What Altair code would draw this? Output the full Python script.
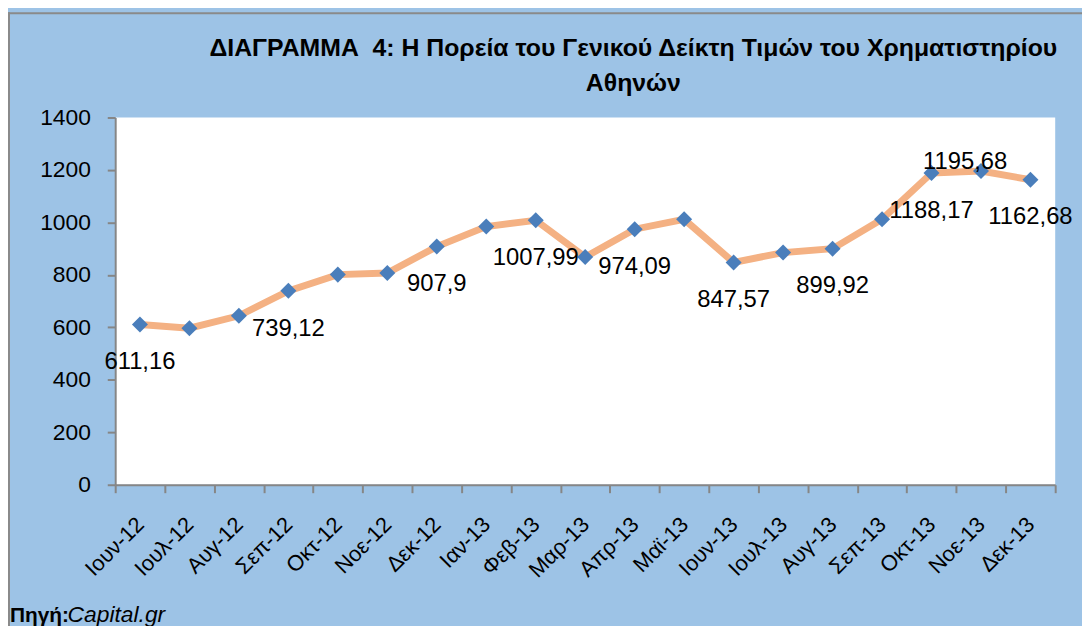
import altair as alt
import pandas as pd

months = ["Ιουν-12", "Ιουλ-12", "Αυγ-12", "Σεπ-12", "Οκτ-12", "Νοε-12", "Δεκ-12",
          "Ιαν-13", "Φεβ-13", "Μαρ-13", "Απρ-13", "Μαϊ-13", "Ιουν-13", "Ιουλ-13",
          "Αυγ-13", "Σεπ-13", "Οκτ-13", "Νοε-13", "Δεκ-13"]
values = [611.16, 597, 644, 739.12, 801, 807, 907.9,
          984, 1007.99, 868, 974.09, 1012, 847.57, 885,
          899.92, 1012, 1188.17, 1195.68, 1162.68]
labels = ["611,16", "", "", "739,12", "", "", "907,9",
          "", "1007,99", "", "974,09", "", "847,57", "",
          "899,92", "", "1188,17", "1195,68", "1162,68"]
y_ticks = [0, 200, 400, 600, 800, 1000, 1200, 1400]
title_lines = ["ΔΙΑΓΡΑΜΜΑ\u00a0 4: Η Πορεία του Γενικού Δείκτη Τιμών του Χρηματιστηρίου",
               "Αθηνών"]

df = pd.DataFrame({"month": months, "value": values, "label": labels})

BG = "#9DC3E6"
AX = "#868686"
FONT = "Liberation Sans"

x_enc = alt.X("month:N", sort=months, title=None,
              scale=alt.Scale(paddingInner=0, paddingOuter=0),
              axis=alt.Axis(labelAngle=315, labelAlign="right", labelBaseline="middle",
                            labelFontSize=22, labelFont=FONT, labelColor="black",
                            labelPadding=28, tickBand="extent", tickSize=8,
                            tickColor=AX, tickWidth=2, domainColor=AX, domainWidth=2,
                            grid=False, labelOverlap=False))
y_enc = alt.Y("value:Q", title=None,
              scale=alt.Scale(domain=[0, 1400], nice=False),
              axis=alt.Axis(values=y_ticks, format="d", labelFontSize=23, labelFont=FONT,
                            labelColor="black", labelPadding=17, tickSize=8,
                            tickColor=AX, tickWidth=2, domainColor=AX, domainWidth=2,
                            grid=False))

base = alt.Chart(df)

line = base.mark_line(color="#F4B183", strokeWidth=7).encode(x=x_enc, y=y_enc)
pts = base.mark_point(shape="diamond", filled=True, size=260, color="#4A7EBB",
                      opacity=1).encode(x=x_enc, y=y_enc)

lab_below = base.transform_filter(
    (alt.datum.label != "") & (alt.datum.month != "Νοε-13")
).mark_text(font=FONT, fontSize=24, color="black", baseline="middle", dy=38).encode(
    x=x_enc, y=y_enc, text="label:N")
lab_above = base.transform_filter(alt.datum.month == "Νοε-13").mark_text(
    font=FONT, fontSize=24, color="black", baseline="middle", dy=-9, dx=-16).encode(
    x=x_enc, y=y_enc, text="label:N")

one = alt.Data(values=[{"a": 1}])
border_top = alt.Chart(one).mark_rule(color="#8A8A8A", strokeWidth=2).encode(
    x=alt.value(-108), x2=alt.value(1000), y=alt.value(-105))
border_left = alt.Chart(one).mark_rule(color="#8A8A8A", strokeWidth=2).encode(
    x=alt.value(-107), y=alt.value(-106), y2=alt.value(530))
title1 = alt.Chart(one).mark_text(font=FONT, fontSize=25, fontWeight="bold",
                                  color="black", align="center", baseline="alphabetic").encode(
    x=alt.value(522), y=alt.value(-62), text=alt.value(title_lines[0]))
title2 = alt.Chart(one).mark_text(font=FONT, fontSize=25, fontWeight="bold",
                                  color="black", align="center", baseline="alphabetic").encode(
    x=alt.value(522), y=alt.value(-27), text=alt.value(title_lines[1]))
src_bold = alt.Chart(one).mark_text(font=FONT, fontSize=21, fontWeight="bold",
                                    color="black", align="left", baseline="alphabetic").encode(
    x=alt.value(-106), y=alt.value(508), text=alt.value("Πηγή:"))
src_it = alt.Chart(one).mark_text(font=FONT, fontSize=23, fontStyle="italic",
                                  color="black", align="left", baseline="alphabetic").encode(
    x=alt.value(-48), y=alt.value(508), text=alt.value("Capital.gr"))

chart = alt.layer(line, pts, lab_below, lab_above, border_top, border_left,
                  title1, title2, src_bold, src_it).properties(
    width=947, height=370,
    autosize=alt.AutoSizeParams(type="none"),
    padding={"left": 108, "top": 108, "right": 27, "bottom": 140},
    background=BG,
).configure_view(fill="white", stroke=None)

chart.save("out.html", embed_options={"renderer": "svg", "actions": False})
